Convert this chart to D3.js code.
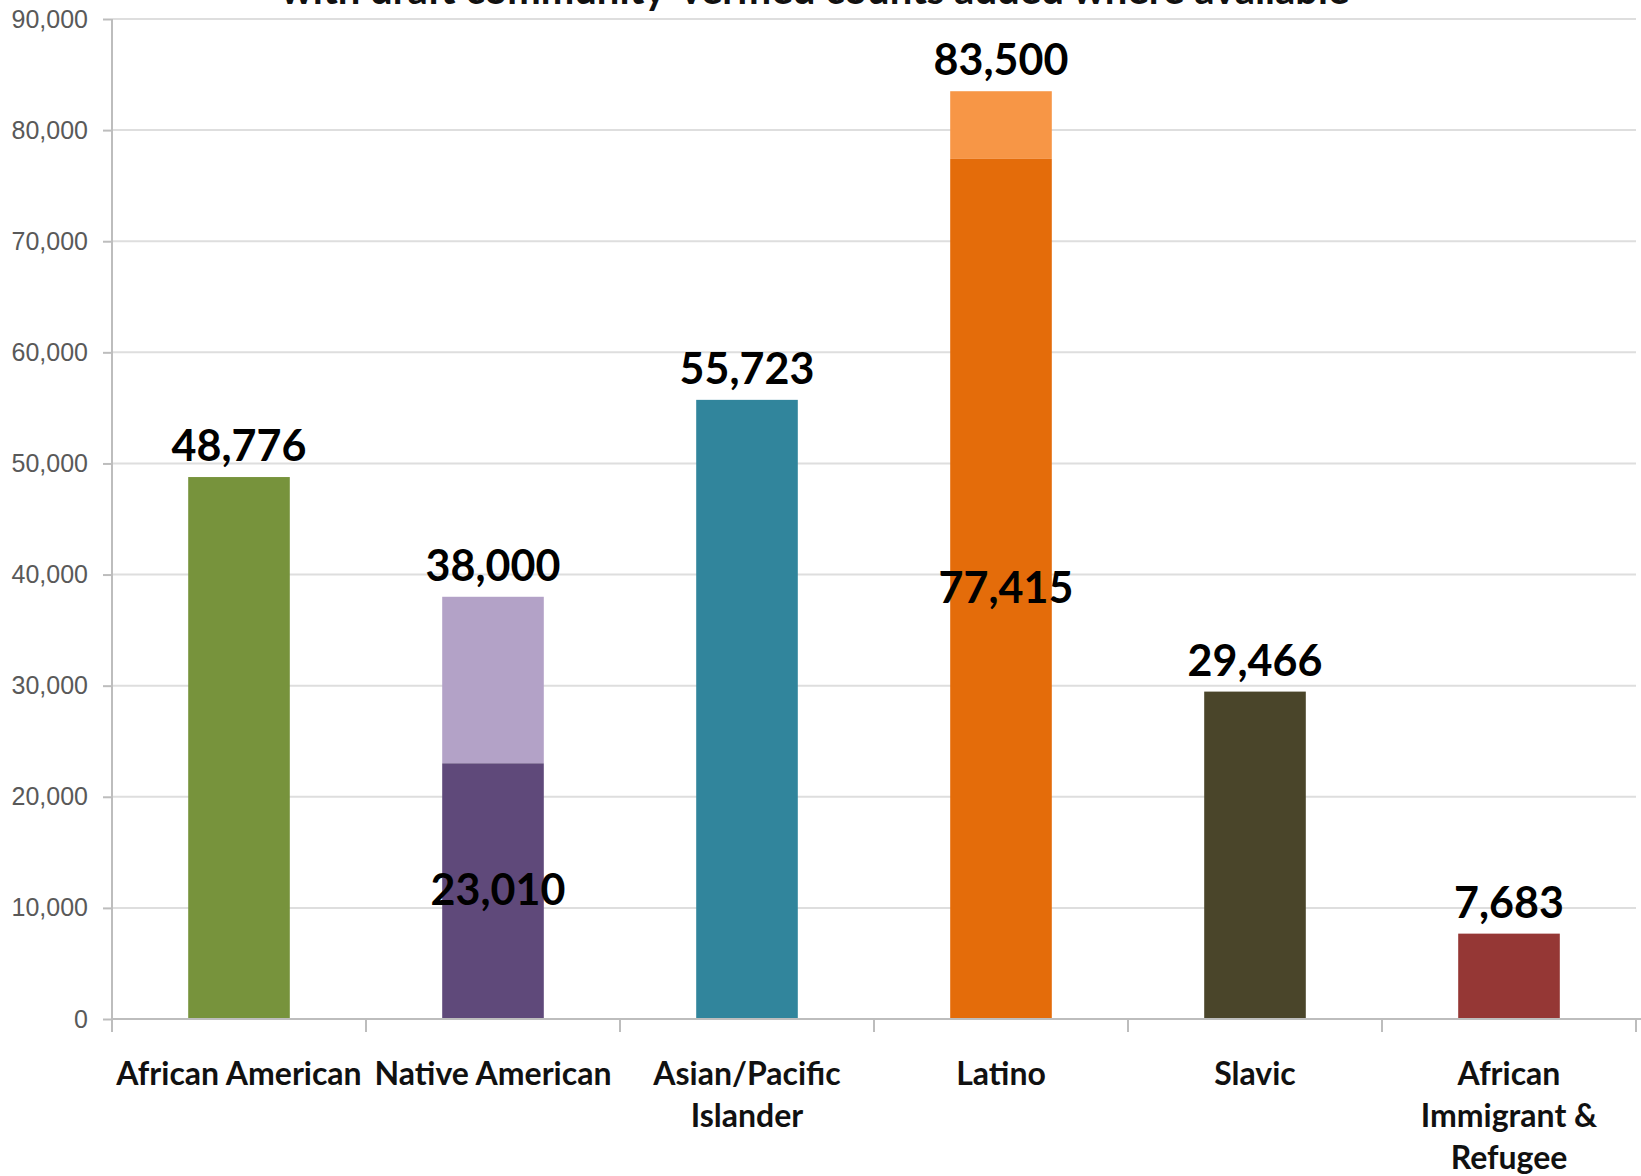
<!DOCTYPE html>
<html>
<head>
<meta charset="utf-8">
<script src="https://cdn.jsdelivr.net/npm/d3@7"></script>
<style>
  html, body { margin: 0; padding: 0; background: #fff; }
  svg { display: block; font-family: Lato, "Open Sans", sans-serif; }
  .grid line { stroke: #dedede; stroke-width: 2; }
  .axis path, .axis line { stroke: #bdbdbd; stroke-width: 2; }
  .y.axis text { fill: #595959; font-size: 25px; }
  .cat { font-size: 32px; font-weight: 700; fill: #111; }
  .value { font-size: 43px; font-weight: 700; fill: #000; }
</style>
</head>
<body>
<div id="chart"></div>
<script>
const categories = [
  ["African American"],
  ["Native American"],
  ["Asian/Pacific", "Islander"],
  ["Latino"],
  ["Slavic"],
  ["African", "Immigrant &", "Refugee"],
];
// base (official) counts and the community-verified totals
const baseCounts = [48776, 23010, 55723, 77415, 29466, 7683];
const verifiedTotals = [null, 38000, null, 83500, null, null];
const baseColors = ["#77933c", "#5f497a", "#31859c", "#e46c0a", "#4a452a", "#953735"];
const addedColors = [null, "#b3a2c7", null, "#f79646", null, null];
const yTicks = [0, 10000, 20000, 30000, 40000, 50000, 60000, 70000, 80000, 90000];
const subtitle = "with draft community-verified counts added where available";

const W = 1641, H = 1176;
const margin = { top: 19, right: 5, bottom: 157, left: 112 };
const width = W - margin.left - margin.right;
const height = H - margin.top - margin.bottom;

const svg = d3.select("#chart").append("svg").attr("width", W).attr("height", H);

// title sits above the frame, only its lower edge shows
svg.append("text")
  .attr("x", 815).attr("y", 4)
  .attr("text-anchor", "middle")
  .attr("font-size", 40).attr("font-weight", 700).attr("fill", "#111")
  .text(subtitle);

const g = svg.append("g").attr("transform", `translate(${margin.left},${margin.top})`);

const keys = categories.map((c) => c.join(" "));
const xScale = d3.scaleBand().domain(keys).range([0, width]).padding(0);
const yScale = d3.scaleLinear().domain([0, 90000]).range([height, 0]);
const barW = xScale.bandwidth() * 0.4;
const barX = (i) => xScale(keys[i]) + (xScale.bandwidth() - barW) / 2;

// gridlines
g.append("g").attr("class", "grid")
  .selectAll("line").data(yTicks.filter((d) => d > 0)).enter()
  .append("line")
  .attr("x1", 0).attr("x2", width)
  .attr("y1", (d) => yScale(d)).attr("y2", (d) => yScale(d));

// bars
const data = baseCounts.map((v, i) => ({ i, base: v, total: verifiedTotals[i] }));
g.append("g").selectAll("rect.added")
  .data(data.filter((d) => d.total)).enter()
  .append("rect")
  .attr("x", (d) => barX(d.i)).attr("width", barW)
  .attr("y", (d) => yScale(d.total))
  .attr("height", (d) => yScale(d.base) - yScale(d.total))
  .attr("fill", (d) => addedColors[d.i]);
g.append("g").selectAll("rect.base")
  .data(data).enter()
  .append("rect")
  .attr("x", (d) => barX(d.i)).attr("width", barW)
  .attr("y", (d) => yScale(d.base))
  .attr("height", (d) => height - yScale(d.base))
  .attr("fill", (d) => baseColors[d.i]);

// axes
g.append("g").attr("class", "y axis")
  .call(d3.axisLeft(yScale).tickValues(yTicks).tickSize(9).tickPadding(15)
    .tickFormat(d3.format(",")))
  .call((a) => a.select(".domain").attr("d", `M0,0V${height + 13}`));

const bounds = keys.map((k) => xScale(k)).concat([width]);
const xAxis = g.append("g").attr("class", "x axis").attr("transform", `translate(0,${height})`);
xAxis.append("path").attr("d", `M0,0H${width + 5}`).attr("fill", "none");
xAxis.selectAll("line").data(bounds).enter().append("line")
  .attr("x1", (d) => d).attr("x2", (d) => d).attr("y1", 0).attr("y2", 13);

g.append("g").selectAll("text.cat")
  .data(categories).enter()
  .append("text").attr("class", "cat")
  .attr("text-anchor", "middle")
  .attr("transform", (c, i) => `translate(${xScale(keys[i]) + xScale.bandwidth() / 2},${height + 66})`)
  .selectAll("tspan").data((c) => c).enter()
  .append("tspan").attr("x", 0).attr("y", (t, j) => j * 42).text((t) => t);

// value labels
const fmt = d3.format(",");
g.append("g").selectAll("text.top")
  .data(data).enter()
  .append("text").attr("class", "value")
  .attr("text-anchor", "middle")
  .attr("x", (d) => barX(d.i) + barW / 2)
  .attr("y", (d) => yScale(d.total || d.base) - 16)
  .text((d) => fmt(d.total || d.base));
g.append("g").selectAll("text.inner")
  .data(data.filter((d) => d.total)).enter()
  .append("text").attr("class", "value")
  .attr("text-anchor", "middle")
  .attr("x", (d) => barX(d.i) + barW / 2 + 5)
  .attr("y", (d) => yScale(d.base / 2) + 14)
  .text((d) => fmt(d.base));
</script>
</body>
</html>
